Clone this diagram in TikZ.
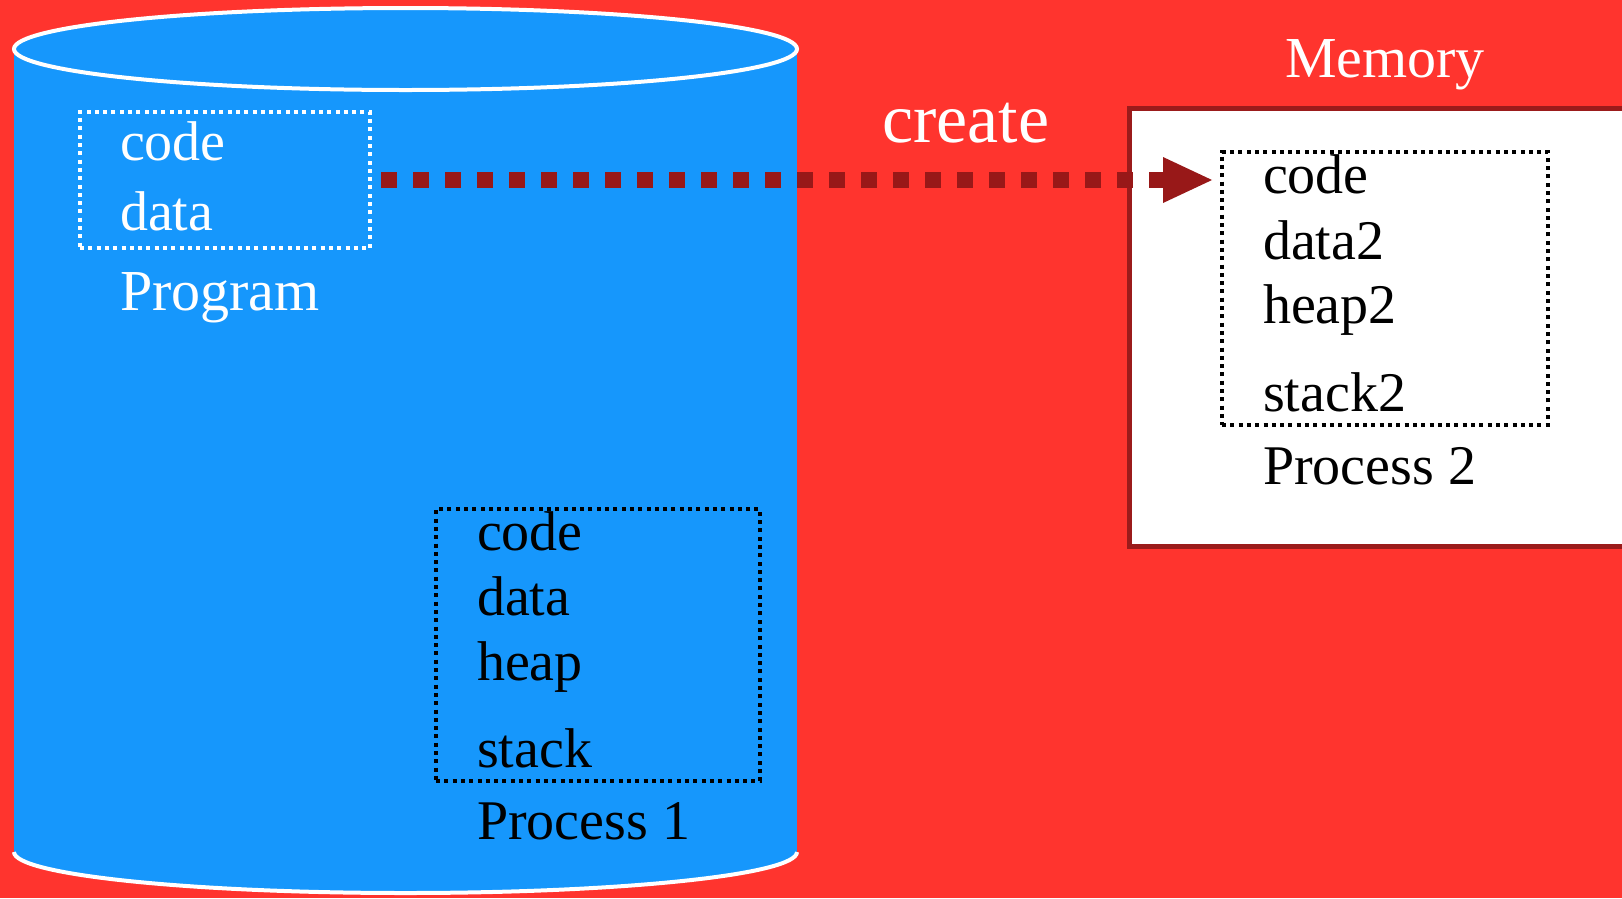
\documentclass[tikz,border=0pt]{standalone}
\usepackage{fontspec}
\setmainfont{Liberation Serif}
\usetikzlibrary{arrows.meta}
\definecolor{bgred}{RGB}{255,52,46}
\definecolor{cylblue}{RGB}{22,151,252}
\definecolor{arrowred}{RGB}{152,24,24}
\definecolor{memborder}{RGB}{155,27,27}
\begin{document}
\begin{tikzpicture}[x=1pt,y=-1pt,
  txt/.style={anchor=base west, inner sep=0pt, outer sep=0pt, font=\fontsize{56}{60}\selectfont},
  wtxt/.style={txt, text=white},
  btxt/.style={txt, text=black},
  wbox/.style={draw=white, line width=4pt, dash pattern=on 4pt off 4.3pt, inner sep=0pt, outer sep=0pt},
  bbox/.style={draw=black, line width=4pt, dash pattern=on 4pt off 4.3pt, inner sep=0pt, outer sep=0pt},
  arrowline/.style={draw=arrowred, line width=16pt, dash pattern=on 16pt off 16pt,
    -{Triangle[length=49pt,width=46pt,line width=0pt]}, shorten <=11pt, shorten >=10pt}
]
\useasboundingbox (0,0) rectangle (1622,898);
\fill[bgred] (0,0) rectangle (1622,898);

% cylinder (program storage)
\fill[cylblue] (14,49) rectangle (797,852);
\fill[cylblue] (405.5,852) ellipse [x radius=391.5pt, y radius=41pt];
\draw[white, line width=4pt] (14,852) arc[start angle=180, end angle=360, x radius=391.5pt, y radius=41pt];
\filldraw[fill=cylblue, draw=white, line width=4pt] (405.5,49) ellipse [x radius=391.5pt, y radius=41pt];

% memory box
\filldraw[fill=white, draw=memborder, line width=5pt] (1129.5,108) rectangle (1660,546);
\node[wtxt, font=\fontsize{58}{62}\selectfont] (memlbl) at (1285,77) {Memory};

% program box
\node[wbox, minimum width=290pt, minimum height=136pt] (prog) at (225,180) {};
\node[wtxt] (pcode) at (120,160) {code};
\node[wtxt] (pdata) at (120,230) {data};
\node[wtxt, font=\fontsize{58}{62}\selectfont] (plbl) at (120,310) {Program};

% process 1
\node[bbox, minimum width=324pt, minimum height=272pt] (p1) at (598,645) {};
\node[btxt] (p1code) at (477,550) {code};
\node[btxt] (p1data) at (477,615) {data};
\node[btxt] (p1heap) at (477,680) {heap};
\node[btxt] (p1stack) at (477,767) {stack};
\node[btxt] (p1lbl) at (477,839) {Process 1};

% process 2
\node[bbox, minimum width=326pt, minimum height=273pt] (p2) at (1385,288.5) {};
\node[btxt] (p2code) at (1263,193) {code};
\node[btxt] (p2data) at (1263,259) {data2};
\node[btxt] (p2heap) at (1263,323) {heap2};
\node[btxt] (p2stack) at (1263,411) {stack2};
\node[btxt] (p2lbl) at (1263,484) {Process 2};

% create arrow
\node[wtxt, font=\fontsize{70}{74}\selectfont] (create) at (882,142) {create};
\draw[arrowline] (prog.east) -- (prog.east -| p2.west);
\end{tikzpicture}
\end{document}
